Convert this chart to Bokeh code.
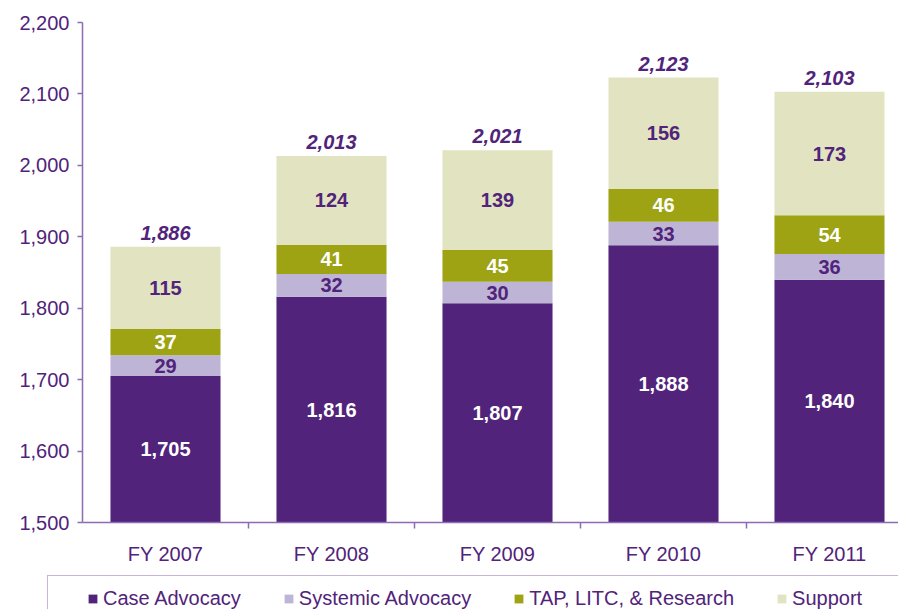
from bokeh.plotting import figure
from bokeh.layouts import column, row
from bokeh.models import (ColumnDataSource, Range1d, FixedTicker, NumeralTickFormatter,
                          CustomJSTickFormatter, Legend, LegendItem)
from bokeh.core.properties import value
from bokeh.embed import file_html
from bokeh.resources import INLINE

# ---- data ----
years = ["FY 2007", "FY 2008", "FY 2009", "FY 2010", "FY 2011"]
case_advocacy = [1705, 1816, 1807, 1888, 1840]
systemic_advocacy = [29, 32, 30, 33, 36]
tap_litc_research = [37, 41, 45, 46, 54]
support = [115, 124, 139, 156, 173]
totals = [1886, 2013, 2021, 2123, 2103]
y_ticks = [1500, 1600, 1700, 1800, 1900, 2000, 2100, 2200]
series_names = ["Case Advocacy", "Systemic Advocacy", "TAP, LITC, & Research", "Support"]

# ---- styles ----
PURPLE = "#51237A"
AXIS = "#8B6DB3"
colors = ["#51237A", "#BEB5D6", "#9DA313", "#E1E3C1"]
FONT = "Liberation Sans"
Y0 = 1500

x = [i + 0.5 for i in range(len(years))]
b1 = case_advocacy
b2 = [a + b for a, b in zip(b1, systemic_advocacy)]
b3 = [a + b for a, b in zip(b2, tap_litc_research)]

src = ColumnDataSource(dict(
    x=x, case=case_advocacy, systemic=systemic_advocacy, tap=tap_litc_research, support=support,
    total=totals,
    case_mid=[(Y0 + c) / 2 for c in b1],
    sys_mid=[a + s / 2 for a, s in zip(b1, systemic_advocacy)],
    tap_mid=[a + s / 2 for a, s in zip(b2, tap_litc_research)],
    sup_mid=[a + s / 2 for a, s in zip(b3, support)],
    case_lbl=[f"{v:,}" for v in case_advocacy],
    sys_lbl=[f"{v:,}" for v in systemic_advocacy],
    tap_lbl=[f"{v:,}" for v in tap_litc_research],
    sup_lbl=[f"{v:,}" for v in support],
    tot_lbl=[f"{v:,}" for v in totals],
))

p = figure(width=898, height=567, output_backend="svg", toolbar_location=None,
           x_range=Range1d(0, 816 / 166), y_range=Range1d(1500, 2200),
           min_border_left=82, min_border_right=0, min_border_top=22, min_border_bottom=45)
p.outline_line_color = None
p.grid.visible = False
p.background_fill_color = "white"

rs = p.vbar_stack(["case", "systemic", "tap", "support"], x="x", width=0.663, source=src,
                  fill_color=colors, line_color=None)

common = dict(source=src, text_font=value(FONT), text_font_size="20px", text_font_style="bold",
              text_align="center", text_baseline="middle")
p.text(x="x", y="case_mid", text="case_lbl", text_color="white", **common)
p.text(x="x", y="sys_mid", text="sys_lbl", text_color=PURPLE, **common)
p.text(x="x", y="tap_mid", text="tap_lbl", text_color="white", **common)
p.text(x="x", y="sup_mid", text="sup_lbl", text_color=PURPLE, **common)
p.text(x="x", y="total", text="tot_lbl", text_color=PURPLE, source=src, text_font=value(FONT),
       text_font_size="20px", text_font_style="bold italic", text_align="center",
       text_baseline="bottom", y_offset=-7)

# y axis
ya = p.yaxis[0]
ya.ticker = FixedTicker(ticks=y_ticks)
ya.formatter = NumeralTickFormatter(format="0,0")
ya.axis_line_color = AXIS
ya.axis_line_width = 1.5
ya.major_tick_line_color = AXIS
ya.major_tick_line_width = 1.5
ya.major_tick_out = 5
ya.major_tick_in = 0
ya.minor_tick_line_color = None
ya.major_label_standoff = 8
ya.major_label_text_font = FONT
ya.major_label_text_font_size = "20px"
ya.major_label_text_color = PURPLE

# x axis
xa = p.xaxis[0]
xa.ticker = FixedTicker(ticks=x, minor_ticks=[1, 2, 3, 4])
xa.formatter = CustomJSTickFormatter(args=dict(labels=years),
                                     code="return labels[Math.round(tick - 0.5)];")
xa.axis_line_color = AXIS
xa.axis_line_width = 1.5
xa.major_tick_line_color = None
xa.major_tick_out = 0
xa.major_tick_in = 0
xa.minor_tick_line_color = AXIS
xa.minor_tick_line_width = 1.5
xa.minor_tick_out = 6
xa.minor_tick_in = 0
xa.major_label_standoff = 14
xa.major_label_text_font = FONT
xa.major_label_text_font_size = "20px"
xa.major_label_text_color = PURPLE

# ---- legend strip (separate figure below the chart) ----
lp = figure(width=898, height=42, output_backend="svg", toolbar_location=None,
            x_axis_type=None, y_axis_type=None, x_range=Range1d(0, 1), y_range=Range1d(0, 1),
            min_border_left=0, min_border_right=0, min_border_top=0, min_border_bottom=0)
lp.outline_line_color = None
lp.grid.visible = False

# zero-width proxy renderers (they only supply the legend swatches)
spacer = lp.vbar(x=x[:1], top=case_advocacy[:1], width=0, fill_alpha=0, line_alpha=0)
proxies = [lp.vbar(x=x[:1], top=case_advocacy[:1], width=0, fill_color=c, line_color=None)
           for c in colors]
items = []
for n, r in zip(series_names, proxies):
    items.append(LegendItem(label=" ", renderers=[spacer]))
    items.append(LegendItem(label=n, renderers=[r]))
items.append(LegendItem(label=" ", renderers=[spacer]))
items.append(LegendItem(label=" ", renderers=[spacer]))

leg = Legend(items=items, location=(47, -12), orientation="horizontal",
             padding=10, spacing=13, margin=0, label_width=0, label_height=24,
             label_standoff=5, glyph_width=11, glyph_height=11,
             border_line_color=AXIS, border_line_width=1.5,
             background_fill_color="white", background_fill_alpha=1,
             label_text_font=FONT, label_text_font_size="20px", label_text_color=PURPLE)
lp.add_layout(leg, "center")

layout = column(p, row(lp, spacing=0), spacing=0)
open("out.html", "w").write(file_html(layout, INLINE))
